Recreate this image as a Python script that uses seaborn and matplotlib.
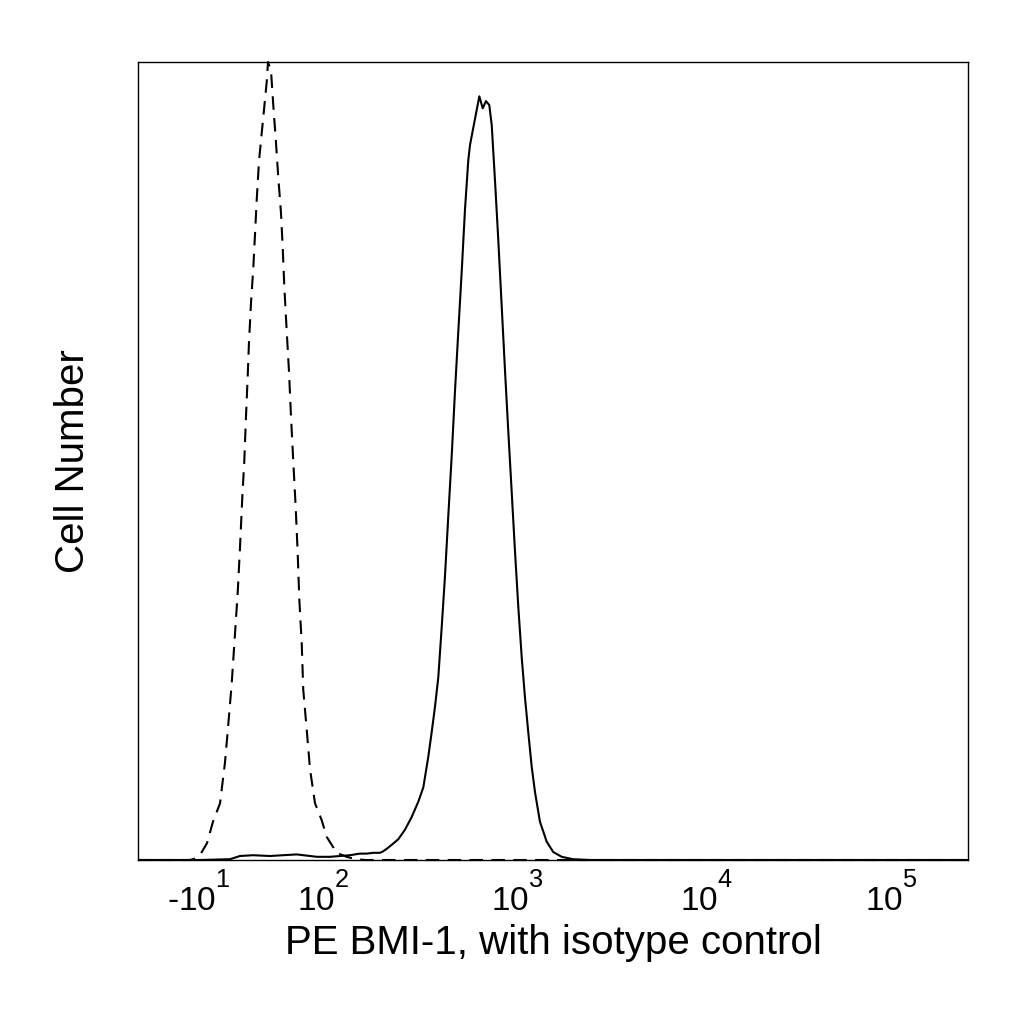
import numpy as np
import pandas as pd
import matplotlib
matplotlib.use("Agg")
import matplotlib.pyplot as plt
import seaborn as sns

# histogram traces, x in display channels (0-1024), y as % of max count
isotype_channel = [0, 64.2, 69.1, 76.5, 85.1, 92.5, 101.2, 107.3, 111.4, 115.6, 119.7, 123.0,
                   125.8, 128.7, 131.1, 133.2, 135.3, 136.9, 139.4, 142.2, 144.3, 146.4, 149.3,
                   153.4, 158.8, 160.4, 164.1, 166.9, 169.9, 173.1, 176.4, 178.5, 180.5, 183.5,
                   186.3, 188.8, 191.6, 194.6, 197.0, 199.0, 202.0, 203.9, 208.1, 212.2, 218.4,
                   226.6, 232.8, 239.0, 245.1, 257.5, 267.7, 280.1, 1024]
isotype_count = [0, 0, 0.13, 0.63, 2.1, 4.8, 7.1, 12.2, 17.0, 22.1, 28.4, 33.5,
                 39.1, 45.5, 49.9, 55.5, 60.5, 64.8, 69.8, 74.1, 78.3, 82.6, 87.6,
                 91.9, 97.5, 100, 98.9, 94.6, 90.4, 85.5, 81.1, 76.8, 71.9, 66.2,
                 61.2, 55.5, 49.9, 44.1, 38.5, 32.7, 27.1, 21.3, 16.4, 11.4, 7.1,
                 5.0, 2.9, 1.9, 0.9, 0.4, 0.13, 0, 0]

bmi1_channel = [0, 76.5, 113.5, 125.8, 141.9, 162.8, 178.9, 195.8, 220.5, 236.9, 249.2, 261.5,
                273.8, 282.2, 290.3, 298.6, 302.6, 306.8, 313.0, 321.1, 329.4, 337.7, 345.8,
                352.0, 358.1, 362.3, 366.4, 370.5, 374.7, 378.7, 382.8, 387.0, 391.1, 395.2,
                399.4, 403.4, 407.5, 409.6, 421.1, 425.3, 429.3, 433.4, 436.4, 440.4, 444.5,
                448.7, 452.8, 456.8, 461.0, 465.1, 469.2, 473.4, 477.4, 481.5, 485.7, 489.8,
                495.9, 504.2, 512.3, 522.7, 536.7, 557.6, 1024]
bmi1_count = [0, 0, 0.1, 0.5, 0.6, 0.5, 0.6, 0.7, 0.4, 0.4, 0.5, 0.6,
              0.8, 0.8, 0.9, 0.9, 1.1, 1.4, 1.9, 2.6, 3.8, 5.4, 7.3,
              9.1, 12.9, 16.0, 19.2, 22.9, 29.2, 35.5, 43.1, 50.6, 58.8, 66.3,
              73.8, 81.5, 87.7, 89.6, 95.7, 94.2, 95.1, 94.6, 92.1, 85.2, 77.7,
              69.4, 61.3, 53.8, 46.2, 38.7, 31.7, 25.4, 20.4, 16.0, 11.7, 8.5,
              4.8, 2.3, 1.0, 0.4, 0.1, 0, 0]

# biexponential axis: channel position of each decade label
tick_channel = [75.3, 227.9, 468.4, 701.6, 929.0]
tick_labels = ["-$\\mathregular{10^{1}}$", "$\\mathregular{10^{2}}$", "$\\mathregular{10^{3}}$",
               "$\\mathregular{10^{4}}$", "$\\mathregular{10^{5}}$"]

sns.set_style("white")
plt.rcParams["font.family"] = ["Liberation Sans", "DejaVu Sans"]
plt.rcParams["mathtext.fontset"] = "custom"
plt.rcParams["mathtext.rm"] = "Liberation Sans"
plt.rcParams["text.color"] = "black"
plt.rcParams["axes.labelcolor"] = "black"
plt.rcParams["xtick.color"] = "black"

# bigger, higher exponents like the cytometry software draws them
try:
    import matplotlib._mathtext as _mt
    _mt.FontConstantsBase.sup1 = 1.3
    _mt.SHRINK_FACTOR = 0.76
except Exception:
    pass

df_iso = pd.DataFrame({"channel": isotype_channel, "count": isotype_count})
df_bmi = pd.DataFrame({"channel": bmi1_channel, "count": bmi1_count})

fig = plt.figure(figsize=(10.24, 10.24), dpi=100)
ax = fig.add_axes([138 / 1024, 1 - 860 / 1024, 830 / 1024, 798 / 1024])

sns.lineplot(data=df_iso, x="channel", y="count", ax=ax, color="black",
             linewidth=1.5, linestyle=(0, (6.5, 4)), sort=False, clip_on=False)
sns.lineplot(data=df_bmi, x="channel", y="count", ax=ax, color="black",
             linewidth=1.5, sort=False)

ax.set_xlim(0, 1024)
ax.set_ylim(0, 100)

# minor ticks at 2..9 x decade between labelled decades
minor = []
for lo, hi in zip(tick_channel[1:-1], tick_channel[2:]):
    for k in range(2, 10):
        minor.append(lo + np.log10(k) * (hi - lo))
minor.append(tick_channel[-1] + np.log10(2) * (tick_channel[-1] - tick_channel[-2]))
ax.set_xticks(tick_channel)
ax.set_xticklabels(tick_labels)
ax.set_xticks(minor, minor=True)
ax.tick_params(axis="x", which="major", length=4, width=1, direction="out",
               labelsize=24, pad=4)
ax.tick_params(axis="x", which="minor", length=2, width=0.8, direction="out")
ax.set_yticks([])

for s in ax.spines.values():
    s.set_visible(True)
    s.set_color("black")
    s.set_linewidth(1.0)

ax.set_xlabel("PE BMI-1, with isotype control", fontsize=29, labelpad=5)
ax.set_ylabel("Cell Number", fontsize=29, labelpad=33)

fig.savefig("out.png", dpi=100, facecolor="white")
